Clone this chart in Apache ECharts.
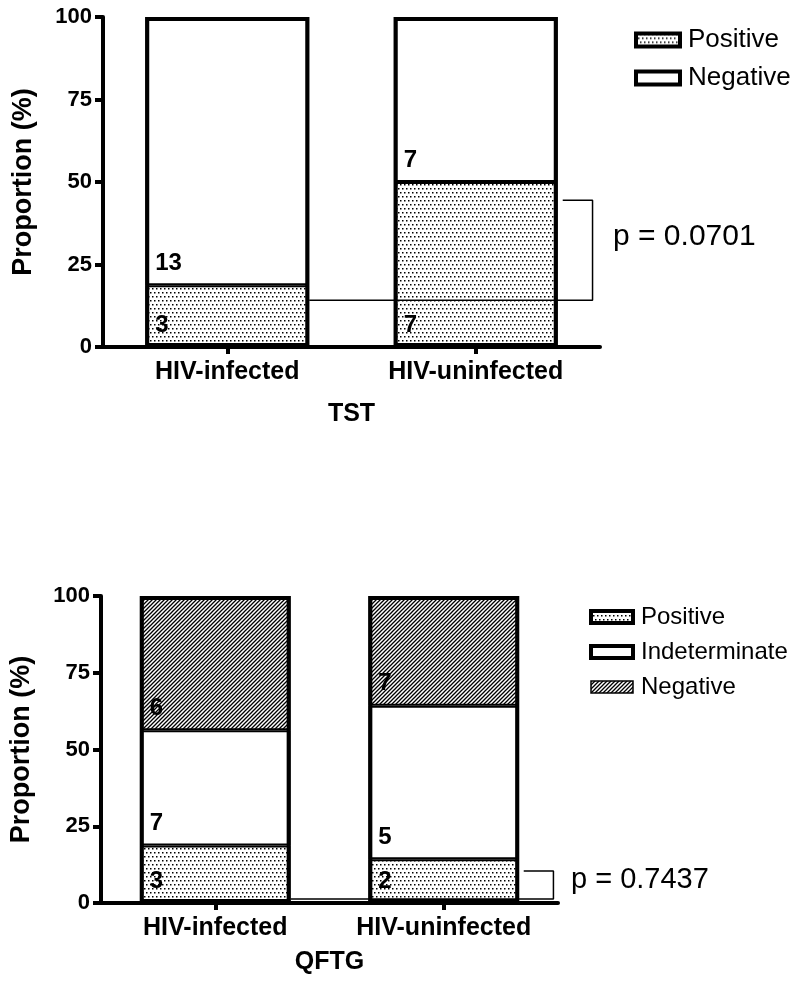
<!DOCTYPE html>
<html>
<head>
<meta charset="utf-8">
<script src="https://cdn.jsdelivr.net/npm/echarts@6/dist/echarts.min.js"></script>
<style>
html,body{margin:0;padding:0;background:#fff;}
#chart{width:800px;height:985px;}
</style>
</head>
<body>
<div id="chart"></div>
<script>
// ---- data ----
const categories = ['HIV-infected', 'HIV-uninfected'];
// TST panel (% of group)
const tstPositive = [18.75, 50];
const tstNegative = [81.25, 50];
const tstPositiveN = [3, 7];
const tstNegativeN = [13, 7];
// QFTG panel (% of group)
const qftPositive = [18.75, 14.29];
const qftIndeterminate = [37.5, 50];
const qftNegative = [43.75, 35.71];
const qftPositiveN = [3, 2];
const qftIndeterminateN = [7, 5];
const qftNegativeN = [6, 7];
// significance brackets in data units (x: category index scale, y: %)
const tstBracket = [[0.33, 14.2], [1.47, 14.2], [1.47, 44.5], [1.35, 44.5]];
const qftBracket = [[0.33, 1.3], [1.48, 1.3], [1.48, 10.4], [1.35, 10.4]];
const tstP = 'p = 0.0701';
const qftP = 'p = 0.7437';
const yTickValues = [0, 25, 50, 75, 100];

const tstTotal = tstPositive.map((v, i) => v + tstNegative[i]);
const qftTotal = qftPositive.map((v, i) => v + qftIndeterminate[i] + qftNegative[i]);

// ---- patterns ----
function dotPattern() {
  const c = document.createElement('canvas');
  c.width = 8; c.height = 8;
  const g = c.getContext('2d');
  g.fillStyle = '#fff'; g.fillRect(0, 0, 8, 8);
  g.fillStyle = '#000';
  [[0,0],[4,0],[2,4],[6,4]].forEach(p => g.fillRect(p[0], p[1], 1.5, 1.5));
  return { image: c, repeat: 'repeat' };
}
function hatchPattern() {
  const c = document.createElement('canvas');
  c.width = 4; c.height = 4;
  const g = c.getContext('2d');
  g.fillStyle = '#fff'; g.fillRect(0, 0, 4, 4);
  g.strokeStyle = '#000'; g.lineWidth = 1.3;
  g.beginPath();
  g.moveTo(-1, 5); g.lineTo(5, -1);
  g.moveTo(-1, 1); g.lineTo(1, -1);
  g.moveTo(3, 5); g.lineTo(5, 3);
  g.stroke();
  return { image: c, repeat: 'repeat' };
}
const DOT = dotPattern();
const HATCH = hatchPattern();
const FONT = 'Liberation Sans, Arial, Helvetica, sans-serif';

const chart = echarts.init(document.getElementById('chart'), null, { renderer: 'canvas' });

function catAxis(grid, name, nameGap) {
  return {
    type: 'category', gridIndex: grid, data: categories,
    name: name, nameLocation: 'middle', nameGap: nameGap,
    nameTextStyle: { fontSize: 25, fontWeight: 'bold', color: '#000', fontFamily: FONT },
    axisLine: { onZero: false, lineStyle: { color: '#000', width: 4 } },
    axisTick: { show: true, alignWithLabel: true, length: 7, lineStyle: { color: '#000', width: 4 } },
    axisLabel: { fontSize: 25, fontWeight: 'bold', color: '#000', margin: 13, fontFamily: FONT },
    splitLine: { show: false }
  };
}
function valAxis(grid) {
  return {
    type: 'value', gridIndex: grid, min: 0, max: 100, interval: 25,
    name: 'Proportion (%)', nameLocation: 'middle', nameGap: 66,
    nameTextStyle: { fontSize: 27, fontWeight: 'bold', color: '#000', fontFamily: FONT },
    axisLine: { show: true, onZero: false, lineStyle: { color: '#000', width: 4 } },
    axisTick: { show: true, length: 8, lineStyle: { color: '#000', width: 4 } },
    axisLabel: { fontSize: 22, fontWeight: 'bold', color: '#000', margin: 11, fontFamily: FONT,
      formatter: v => yTickValues.includes(v) ? String(v) : '' },
    splitLine: { show: false }
  };
}
function hiddenX(grid) {
  return { type: 'value', gridIndex: grid, min: -0.5, max: 1.5, show: false, position: 'top',
    axisLine: { onZero: false } };
}
function barSeries(name, xi, yi, stack, data, color, counts) {
  return {
    type: 'bar', name: name, xAxisIndex: xi, yAxisIndex: yi, stack: stack,
    data: data, barWidth: '66%', barGap: '-100%',
    itemStyle: { color: color, borderColor: '#000', borderWidth: 2 },
    label: {
      show: true, position: 'insideBottomLeft', distance: 10,
      formatter: p => String(counts[p.dataIndex]),
      fontSize: 24, fontWeight: 'bold', color: '#000', fontFamily: FONT
    },
    emphasis: { disabled: true },
    animation: false
  };
}
function outlineSeries(xi, yi, data) {
  return {
    type: 'bar', name: 'outline', xAxisIndex: xi, yAxisIndex: yi,
    data: data, barWidth: '66%', barGap: '-100%', z: 3,
    itemStyle: { color: 'rgba(0,0,0,0)', borderColor: '#000', borderWidth: 4 },
    silent: true, emphasis: { disabled: true }, animation: false
  };
}
function bracketSeries(xi, yi, data) {
  return {
    type: 'line', xAxisIndex: xi, yAxisIndex: yi, data: data,
    symbol: 'none', lineStyle: { color: '#000', width: 1.5 },
    z: 5, silent: true, animation: false
  };
}

const option = {
  backgroundColor: '#fff',
  textStyle: { fontFamily: FONT },
  animation: false,
  grid: [
    { left: 103, right: 200, top: 17, height: 330 },
    { left: 95, right: 242, top: 596, height: 307 }
  ],
  xAxis: [catAxis(0, 'TST', 55), catAxis(1, 'QFTG', 47), hiddenX(0), hiddenX(1)],
  yAxis: [valAxis(0), valAxis(1)],
  legend: [
    {
      orient: 'vertical', left: 634, top: 27, padding: 0, itemWidth: 44, itemHeight: 13, itemGap: 12,
      selectedMode: false, icon: 'rect',
      itemStyle: { borderColor: '#000', borderWidth: 4 },
      textStyle: { fontSize: 26, color: '#000', fontFamily: FONT, lineHeight: 26, padding: [0, 0, 0, 3] },
      data: [
        { name: 'Positive', itemStyle: { color: DOT } },
        { name: 'Negative', itemStyle: { color: '#fff' } }
      ]
    },
    {
      orient: 'vertical', left: 589, top: 605, padding: 0, itemWidth: 42, itemHeight: 12, itemGap: 11,
      selectedMode: false, icon: 'rect',
      itemStyle: { borderColor: '#000', borderWidth: 4 },
      textStyle: { fontSize: 24, color: '#000', fontFamily: FONT, lineHeight: 24, padding: [0, 0, 0, 3] },
      data: [
        { name: 'Positive', itemStyle: { color: DOT } },
        { name: 'Indeterminate', itemStyle: { color: '#fff' } },
        { name: 'Negative', itemStyle: { color: HATCH, borderWidth: 1.5 } }
      ]
    }
  ],
  graphic: [
    { type: 'text', x: 613, y: 237, style: { text: tstP, font: '30px ' + FONT, fill: '#000', verticalAlign: 'middle' } },
    { type: 'text', x: 571, y: 880, style: { text: qftP, font: '29px ' + FONT, fill: '#000', verticalAlign: 'middle' } }
  ],
  series: [
    barSeries('Positive', 0, 0, 'tst', tstPositive, DOT, tstPositiveN),
    barSeries('Negative', 0, 0, 'tst', tstNegative, '#fff', tstNegativeN),
    outlineSeries(0, 0, tstTotal),
    bracketSeries(2, 0, tstBracket),
    barSeries('Positive', 1, 1, 'qft', qftPositive, DOT, qftPositiveN),
    barSeries('Indeterminate', 1, 1, 'qft', qftIndeterminate, '#fff', qftIndeterminateN),
    barSeries('Negative', 1, 1, 'qft', qftNegative, HATCH, qftNegativeN),
    outlineSeries(1, 1, qftTotal),
    bracketSeries(3, 1, qftBracket)
  ]
};
chart.setOption(option);
</script>
</body>
</html>
